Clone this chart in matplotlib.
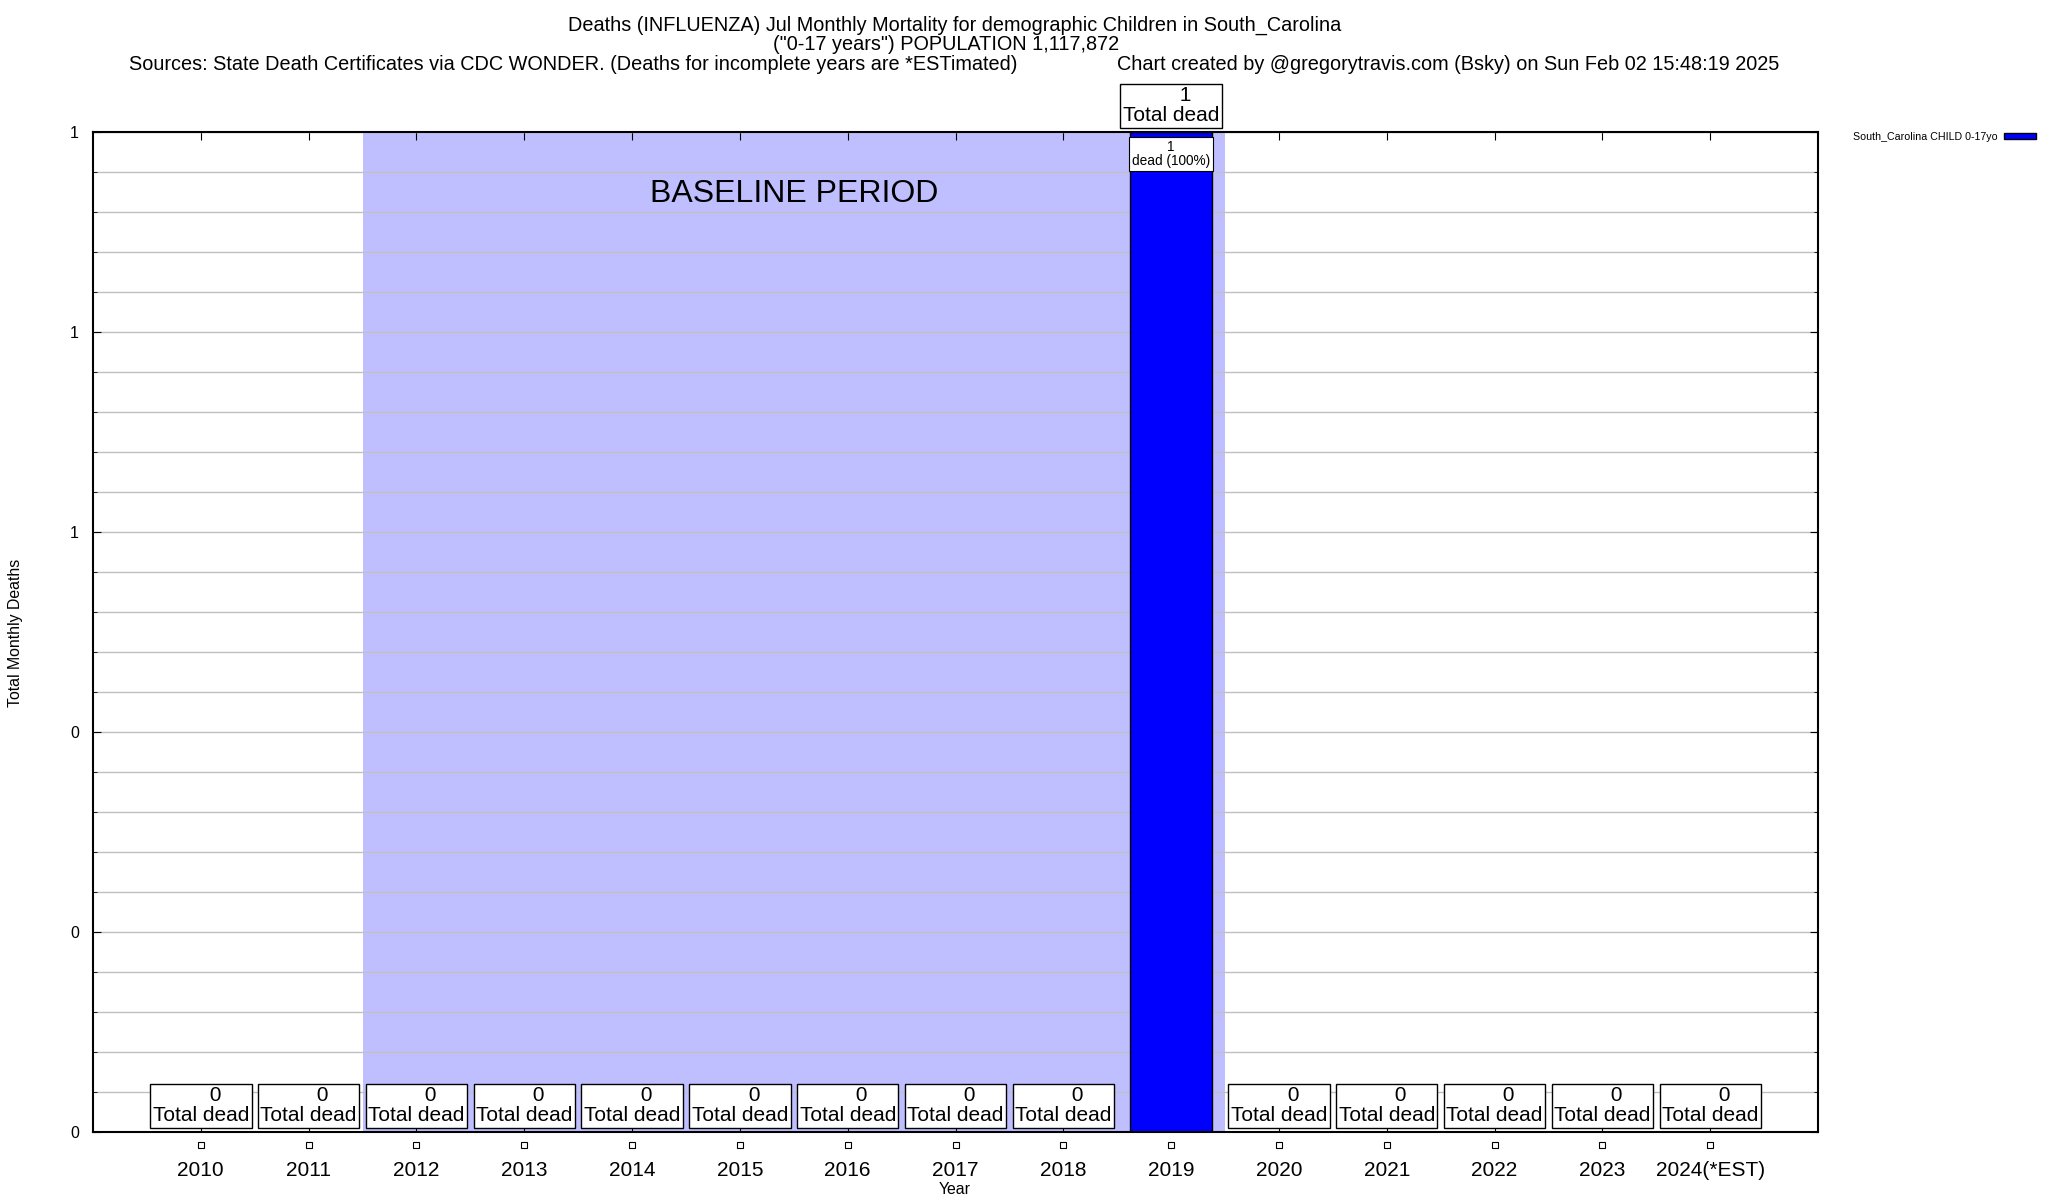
import numpy as np
import matplotlib.pyplot as plt
import matplotlib.transforms as mtransforms
from matplotlib.ticker import MultipleLocator, FormatStrFormatter

plt.rcParams['font.family'] = ['Liberation Sans', 'DejaVu Sans']

years = ['2010', '2011', '2012', '2013', '2014', '2015', '2016', '2017',
         '2018', '2019', '2020', '2021', '2022', '2023', '2024(*EST)']
deaths = [0, 0, 0, 0, 0, 0, 0, 0, 0, 1, 0, 0, 0, 0, 0]
baseline_years = ('2012', '2019')
series_name = 'South_Carolina CHILD 0-17yo'

title1 = 'Deaths (INFLUENZA) Jul Monthly Mortality for demographic Children in South_Carolina'
title2 = '("0-17 years") POPULATION 1,117,872'
source = 'Sources: State Death Certificates via CDC WONDER. (Deaths for incomplete years are *ESTimated)'
credit = 'Chart created by @gregorytravis.com (Bsky) on Sun Feb 02 15:48:19 2025'

fig = plt.figure(figsize=(20.48, 12), dpi=100)
ax = fig.add_axes([93 / 2048, 1 - 1132 / 1200, (1818 - 93) / 2048, 1000 / 1200])

x = np.arange(len(years))
total = sum(deaths)

# baseline shading
b0 = years.index(baseline_years[0])
b1 = years.index(baseline_years[1])
ax.axvspan(b0 - 0.5, b1 + 0.5, color='#bfbfff', lw=0, zorder=0.3)
ax.text((b0 + b1 - 1) / 2 + 0.5, 0.938, 'BASELINE PERIOD', ha='center', va='center',
        fontsize=23, zorder=3)

ax.bar(x, deaths, width=0.76, color='#0000ff', edgecolor='black', linewidth=1,
       label=series_name, zorder=2)

box = dict(boxstyle='square,pad=0.12', fc='white', ec='black', lw=1)
for xi, d in zip(x, deaths):
    ax.annotate('     %d\nTotal dead' % d, xy=(xi, d), xytext=(0, 7), textcoords='offset pixels',
                ha='center', va='bottom', fontsize=15, linespacing=1.05,
                bbox=box, zorder=4, annotation_clip=False)
    if d > 0:
        ax.annotate('%d\ndead (%d%%)' % (d, round(100 * d / total)), xy=(xi, d), xytext=(0, -8),
                    textcoords='offset pixels', ha='center', va='top', fontsize=9.8,
                    linespacing=1.0, bbox=dict(boxstyle='square,pad=0.2', fc='white', ec='black', lw=0.8),
                    zorder=4)

ax.set_xlim(-1, len(years))
ax.set_ylim(0, 1)
ax.yaxis.set_major_locator(MultipleLocator(0.2))
ax.yaxis.set_minor_locator(MultipleLocator(0.04))
ax.yaxis.set_major_formatter(FormatStrFormatter('%.0f'))
ax.grid(True, which='both', axis='y', color='#c0c0c0', lw=1, zorder=0.5)
ax.set_axisbelow(True)
ax.set_xticks(x)
ax.set_xticklabels(years, fontsize=15)
ax.tick_params(axis='x', direction='in', length=6, pad=21, top=True)
ax.tick_params(axis='y', which='major', direction='in', length=6, labelsize=11.5, pad=10, right=True)
ax.tick_params(axis='y', which='minor', direction='in', length=3, right=True)
for s in ax.spines.values():
    s.set_linewidth(1.5)

# small hollow squares under the axis
trans = mtransforms.blended_transform_factory(ax.transData, ax.transAxes)
ax.plot(x, np.full(len(x), -0.013), 's', ms=5, mfc='white', mec='black', mew=0.8,
        transform=trans, clip_on=False)

fig.text(16 / 2048, 0.473, 'Total Monthly Deaths', rotation=90, ha='center', va='center', fontsize=11.4)
fig.text(955 / 2048, 1 - 1189 / 1200, 'Year', ha='center', va='center', fontsize=11.4)

fig.text(955 / 2048, 1 - 25 / 1200, title1, ha='center', va='center', fontsize=14.3)
fig.text(946 / 2048, 1 - 44 / 1200, title2, ha='center', va='center', fontsize=14.3)
fig.text(129 / 2048, 1 - 65 / 1200, source, ha='left', va='center', fontsize=14.3)
fig.text(1117 / 2048, 1 - 65 / 1200, credit, ha='left', va='center', fontsize=14.3)

fig.legend(loc='center right', bbox_to_anchor=(2036 / 2048, 1 - 137 / 1200), frameon=False,
           markerfirst=False, fontsize=7.7, handlelength=3, handleheight=0.5,
           handletextpad=0.6, borderpad=0, borderaxespad=0)

fig.savefig('out.png', dpi=100)
